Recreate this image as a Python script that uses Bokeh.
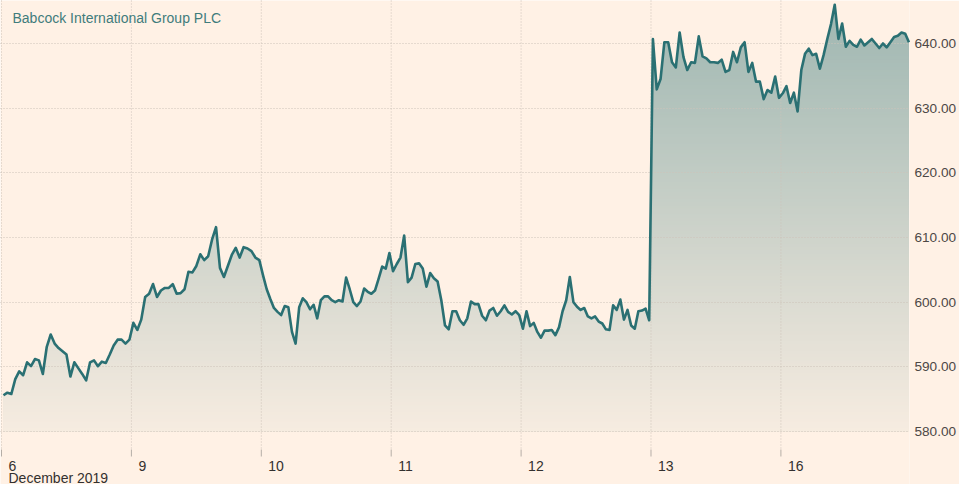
import numpy as np
from bokeh.plotting import figure
from bokeh.models import Range1d, FixedTicker, NumeralTickFormatter, Label
from bokeh.embed import file_html
from bokeh.resources import INLINE

# ---------------- data ----------------
title_text = "Babcock International Group PLC"
day_labels = ["6", "9", "10", "11", "12", "13", "16"]
month_label = "December 2019"
y_ticks = [580, 590, 600, 610, 620, 630, 640]

dec06 = [585.6, 586.0, 585.8, 588.1, 589.3, 588.7, 590.7, 590.1, 591.2, 591.0,
         588.9, 593.1, 595.0, 593.6, 592.9, 592.4, 591.9, 588.5, 590.7, 589.8,
         588.9, 587.9, 590.7, 591.0, 590.1, 590.8, 590.6, 591.9, 593.3, 594.2,
         594.2, 593.6, 594.2]
dec09 = [596.8, 595.7, 597.3, 600.8, 601.3, 602.8, 600.8, 601.8, 602.2, 602.2,
         602.8, 601.3, 601.4, 602.0, 604.7, 604.6, 605.6, 607.4, 606.5, 607.1,
         609.7, 611.6, 605.3, 603.9, 605.6, 607.3, 608.4, 606.9, 608.5, 608.3,
         607.9, 606.9, 606.5]
dec10 = [604.1, 602.0, 600.5, 599.1, 598.5, 598.0, 599.4, 599.2, 595.4, 593.6,
         599.2, 600.6, 600.0, 598.9, 599.6, 597.5, 600.3, 600.9, 600.9, 600.3,
         600.0, 600.3, 600.1, 603.8, 602.0, 600.0, 599.4, 600.1, 602.1, 601.6,
         601.3, 601.8, 603.6, 605.5, 605.2, 607.6]
dec11 = [604.8, 605.9, 606.9, 610.3, 603.1, 603.8, 605.9, 606.0, 605.2, 602.4,
         604.5, 603.7, 603.2, 600.3, 596.4, 595.8, 598.6, 598.6, 597.2, 596.5,
         597.5, 600.1, 599.7, 599.7, 597.9, 597.2, 598.7, 599.1, 597.9, 598.6,
         599.5, 598.5, 598.1, 598.6, 598.0]
dec12 = [595.9, 598.6, 596.3, 596.8, 595.4, 594.5, 595.6, 595.6, 595.7, 594.9,
         596.1, 598.6, 600.3, 603.9, 600.0, 599.3, 598.8, 599.1, 597.8, 597.5,
         597.8, 597.0, 596.7, 595.8, 595.7, 599.5, 598.8, 600.4, 597.3, 598.8,
         596.4, 595.9, 598.6, 598.7, 599.0, 597.2]
dec13 = [640.7, 632.9, 634.5, 640.2, 640.2, 637.1, 636.3, 641.7, 637.9, 635.9,
         637.1, 637.0, 641.1, 638.0, 637.7, 637.1, 637.1, 637.0, 637.5, 635.6,
         635.9, 638.7, 637.1, 639.4, 640.2, 635.6, 637.0, 634.1, 634.1, 631.4,
         632.8, 632.4, 634.9, 631.6]
dec16 = [632.3, 633.4, 630.8, 632.4, 629.5, 635.9, 638.4, 639.2, 638.2, 638.4,
         636.1, 638.2, 640.7, 643.0, 646.0, 640.7, 643.1, 639.5, 640.4, 639.8,
         639.5, 640.6, 639.7, 640.2, 640.7, 640.0, 639.3, 640.0, 639.4, 640.2,
         641.0, 641.2, 641.7, 641.5, 640.2]

days = [dec06, dec09, dec10, dec11, dec12, dec13, dec16]

# trading-time index: each session occupies one unit, samples evenly spaced
xs, ys = [], []
for d, vals in enumerate(days):
    n = len(vals)
    for k, v in enumerate(vals):
        xs.append(d + (k + 0.5) / n)
        ys.append(v)
x = np.array(xs)
y = np.array(ys)

# ---------------- style / layout ----------------
BG = "#fff1e5"
TEAL = "#2a7073"
TITLE_C = "#3f7c7c"
GRID_C = "#cdc3b9"
TICK_C = "#b5aea7"
YLAB_C = "#4d4845"
XLAB_C = "#33302e"
FONT = "Liberation Sans"

W, H = 959, 484
FRAME_W = 912
BASE = 580.0
TOP_TICK = 640.0
TOP_PX = 43                  # screen row of the 640 line
BASE_PX = 431                # screen row of the 580 line
PX = (BASE_PX - TOP_PX) / (TOP_TICK - BASE)
Y_HI = BASE + BASE_PX / PX
Y_LO = BASE - (H - BASE_PX) / PX
GRID_END = BASE - (449 - BASE_PX) / PX
TICK_END = BASE - (456 - BASE_PX) / PX

p = figure(width=W, height=H,
           x_range=Range1d(-0.0077, 6.99), y_range=Range1d(Y_LO, Y_HI),
           output_backend="svg", toolbar_location=None,
           x_axis_location=None, y_axis_location="right",
           min_border_left=0, min_border_top=0, min_border_bottom=0,
           min_border_right=W - FRAME_W)
p.background_fill_color = BG
p.border_fill_color = BG
p.outline_line_color = None

# gradient fill under the line (opaque bands, drawn from top band down)
bg_rgb = np.array([0xff, 0xf1, 0xe5], dtype=float)
teal_rgb = np.array([0x2a, 0x70, 0x73], dtype=float)
a_top, a_bot = 0.46, 0.04
step = 0.5
his = np.arange(647.0, BASE, -step)
for hi in his:
    c = hi - step / 2
    t = (c - BASE) / (Y_HI - BASE)
    a = a_bot + (a_top - a_bot) * min(max(t, 0), 1)
    rgb = bg_rgb * (1 - a) + teal_rgb * a
    col = "#%02x%02x%02x" % tuple(int(round(v)) for v in rgb)
    p.varea(x=x, y1=np.full_like(y, BASE), y2=np.minimum(y, hi),
            fill_color=col, fill_alpha=1.0)

# horizontal grid
p.ygrid.ticker = FixedTicker(ticks=y_ticks)
p.ygrid.grid_line_color = GRID_C
p.ygrid.grid_line_dash = "1 2"
p.ygrid.level = "guide"
p.xgrid.visible = False

# vertical day separators (dotted) + tick marks (solid)
day_ticks = list(range(len(day_labels)))
p.segment(x0=day_ticks, x1=day_ticks, y0=[Y_HI] * len(day_ticks),
          y1=[GRID_END] * len(day_ticks), line_color=GRID_C,
          line_dash="1 2", line_width=1, level="guide")
p.segment(x0=day_ticks, x1=day_ticks, y0=[GRID_END] * len(day_ticks),
          y1=[TICK_END] * len(day_ticks), line_color=TICK_C,
          line_width=1, level="guide")

p.line(x, y, line_color=TEAL, line_width=2.6, line_join="round",
       level="annotation")

ya = p.yaxis[0]
ya.ticker = FixedTicker(ticks=y_ticks)
ya.formatter = NumeralTickFormatter(format="0.00")
ya.major_tick_in = 0
ya.major_tick_out = 0
ya.minor_tick_line_color = None
ya.major_tick_line_color = None
ya.axis_line_color = None
ya.major_label_standoff = 5
ya.major_label_text_font = FONT
ya.major_label_text_font_size = "13.6px"
ya.major_label_text_color = YLAB_C

for i, lab in enumerate(day_labels):
    p.add_layout(Label(x=i, y=H - 465, x_units="data", y_units="screen",
                       x_offset=7, text=lab, text_font=FONT,
                       text_font_size="14px", text_color=XLAB_C,
                       text_align="left", text_baseline="middle"))
p.add_layout(Label(x=8, y=H - 477, x_units="screen", y_units="screen",
                   text=month_label, text_font=FONT, text_font_size="14px",
                   text_color=XLAB_C, text_align="left",
                   text_baseline="middle"))
p.add_layout(Label(x=12, y=H - 17, x_units="screen", y_units="screen",
                   text=title_text, text_font=FONT, text_font_size="14px",
                   text_color=TITLE_C, text_align="left",
                   text_baseline="middle"))

open("out.html", "w").write(file_html(p, INLINE))
